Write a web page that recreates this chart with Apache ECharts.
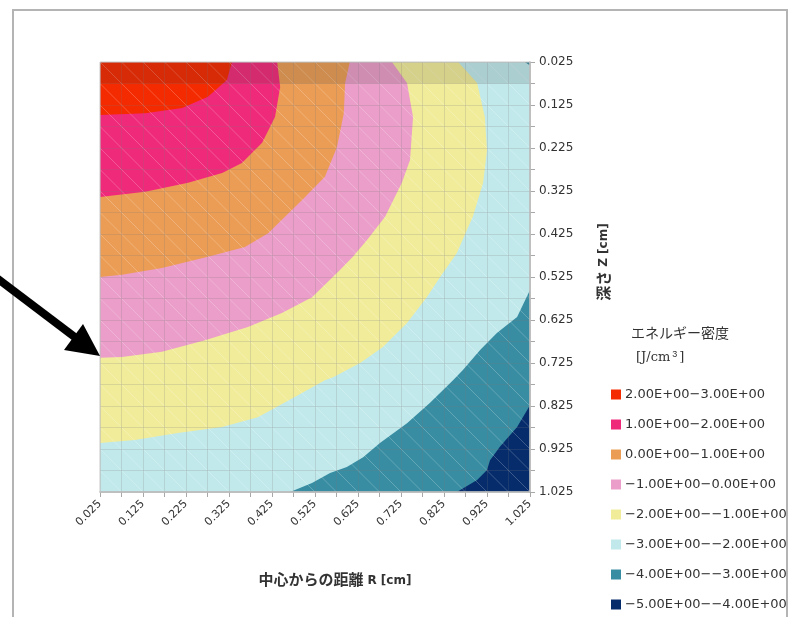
<!DOCTYPE html>
<html>
<head>
<meta charset="utf-8">
<script src="https://cdn.jsdelivr.net/npm/echarts@6/dist/echarts.min.js"></script>
<style>
  html, body { margin: 0; padding: 0; background: #ffffff; }
  #chart { width: 792px; height: 617px; }
</style>
</head>
<body>
<div id="chart"></div>
<script>
// Energy-density contour map: radius R (cm) vs depth Z (cm)

// grid extent (cm)
const rRange = [0.025, 1.025];
const zRange = [0.025, 1.025];
const meshStep = 0.05;

// legend bands, highest first
const bandLabels = [
  '2.00E+00\u22123.00E+00',
  '1.00E+00\u22122.00E+00',
  '0.00E+00\u22121.00E+00',
  '\u22121.00E+00\u22120.00E+00',
  '\u22122.00E+00\u2212\u22121.00E+00',
  '\u22123.00E+00\u2212\u22122.00E+00',
  '\u22124.00E+00\u2212\u22123.00E+00',
  '\u22125.00E+00\u2212\u22124.00E+00'
];
const bandColors = [
  '#f42a00', '#f02a7a', '#eb9d55', '#eb9ec9',
  '#f1ec9a', '#c1e9ec', '#388da2', '#062c6c'
];

// contour lines [R, Z], one per band boundary (level 2, 1, 0, -1, -2, -3, -4)
const contour2 = [[0.332,0.025],[0.320,0.067],[0.276,0.106],[0.216,0.132],[0.130,0.144],[0.025,0.148]];
const contour1 = [[0.437,0.025],[0.444,0.083],[0.432,0.153],[0.402,0.213],[0.355,0.260],[0.309,0.283],
  [0.230,0.306],[0.130,0.327],[0.025,0.339]];
const contour0 = [[0.606,0.025],[0.595,0.074],[0.592,0.144],[0.576,0.223],[0.548,0.292],[0.495,0.346],
  [0.448,0.392],[0.416,0.423],[0.362,0.455],[0.276,0.478],[0.169,0.504],[0.076,0.520],[0.025,0.525]];
const contourM1 = [[0.704,0.025],[0.739,0.074],[0.753,0.153],[0.746,0.253],[0.727,0.306],[0.688,0.385],
  [0.646,0.439],[0.613,0.478],[0.583,0.509],[0.518,0.572],[0.448,0.609],[0.369,0.641],[0.269,0.672],
  [0.169,0.699],[0.076,0.711],[0.025,0.713]];
const contourM2 = [[0.858,0.025],[0.902,0.074],[0.920,0.153],[0.925,0.230],[0.916,0.306],[0.892,0.385],
  [0.878,0.416],[0.855,0.469],[0.816,0.525],[0.785,0.572],[0.739,0.632],[0.683,0.688],[0.630,0.725],
  [0.567,0.758],[0.548,0.765],[0.478,0.804],[0.392,0.851],[0.309,0.874],[0.206,0.888],[0.106,0.904],
  [0.025,0.911]];
const contourM3 = [[1.013,0.025],[1.025,0.033],[1.025,0.555],[0.995,0.618],[0.948,0.655],[0.909,0.695],
  [0.869,0.741],[0.846,0.765],[0.792,0.818],[0.739,0.865],[0.676,0.911],[0.637,0.944],[0.599,0.967],
  [0.560,0.981],[0.518,1.004],[0.467,1.025]];
const contourM4 = [[1.025,0.823],[0.995,0.874],[0.955,0.920],[0.932,0.951],[0.925,0.974],[0.902,0.997],
  [0.855,1.025]];

// depth of the first (shaded) row of the surface
const shadedRowEnd = 0.075;

const EPS = 1e-6;
// region where the value is at or above a contour level (the corner at R0,Z0 is the maximum)
function regionAbove(curve) {
  const pts = [[rRange[0], zRange[0]]];
  const first = curve[0], last = curve[curve.length - 1];
  if (first[0] >= rRange[1] - EPS && first[1] > zRange[0] + EPS) pts.push([rRange[1], zRange[0]]);
  curve.forEach(p => pts.push(p));
  if (last[1] >= zRange[1] - EPS && last[0] > rRange[0] + EPS) pts.push([rRange[0], zRange[1]]);
  return pts;
}
const fullRect = [[rRange[0], zRange[0]], [rRange[1], zRange[0]], [rRange[1], zRange[1]], [rRange[0], zRange[1]]];

// polygons, lowest band first so higher bands paint on top
const bandPolygons = [
  fullRect,
  regionAbove(contourM4),
  regionAbove(contourM3),
  regionAbove(contourM2),
  regionAbove(contourM1),
  regionAbove(contour0),
  regionAbove(contour1),
  regionAbove(contour2)
];

const bandSeries = bandPolygons.map((poly, i) => {
  const bandIdx = bandLabels.length - 1 - i;
  return {
    name: bandLabels[bandIdx],
    type: 'custom',
    coordinateSystem: 'cartesian2d',
    itemStyle: { color: bandColors[bandIdx] },
    data: [[rRange[0], zRange[0]]],
    silent: true,
    z: 2,
    renderItem: (params, api) => ({
      type: 'polygon',
      shape: { points: poly.map(p => api.coord(p)) },
      style: { fill: api.visual('color'), stroke: null }
    })
  };
});

// surface facets: mesh cells with a diagonal, and the shaded first row
const cells = [];
const nCells = Math.round((rRange[1] - rRange[0]) / meshStep);
for (let i = 0; i < nCells; i++) {
  for (let j = 0; j < nCells; j++) {
    cells.push([rRange[0] + i * meshStep, zRange[0] + j * meshStep]);
  }
}
const facetSeries = {
  type: 'custom',
  coordinateSystem: 'cartesian2d',
  silent: true,
  z: 3,
  data: cells,
  renderItem: (params, api) => {
    const r = api.value(0), z = api.value(1);
    const a = api.coord([r, z]);
    const b = api.coord([r + meshStep, z + meshStep]);
    return {
      type: 'line',
      shape: { x1: a[0], y1: a[1], x2: b[0], y2: b[1] },
      style: { stroke: 'rgba(255,255,255,0.22)', lineWidth: 1 }
    };
  }
};
const shadeSeries = {
  type: 'custom',
  coordinateSystem: 'cartesian2d',
  silent: true,
  z: 4,
  data: [[rRange[0], zRange[0]]],
  renderItem: (params, api) => {
    const a = api.coord([rRange[0], zRange[0]]);
    const b = api.coord([rRange[1], shadedRowEnd]);
    return {
      type: 'rect',
      shape: { x: a[0], y: a[1], width: b[0] - a[0], height: b[1] - a[1] },
      style: { fill: 'rgba(40,40,40,0.14)' }
    };
  }
};

function tickLabel(v) {
  const k = Math.round((v - rRange[0]) / meshStep);
  return k % 2 === 0 ? v.toFixed(3) : '';
}

const chart = echarts.init(document.getElementById('chart'), null, { renderer: 'canvas' });
chart.setOption({
  backgroundColor: '#ffffff',
  animation: false,
  textStyle: { fontFamily: 'DejaVu Sans, Noto Sans CJK JP, sans-serif' },
  grid: {
    left: 100, top: 62, width: 430, height: 430,
    show: true, borderColor: '#c8c8c8', borderWidth: 1, backgroundColor: 'transparent', z: 6
  },
  xAxis: {
    type: 'value',
    min: rRange[0], max: rRange[1], interval: meshStep,
    z: 5,
    axisLine: { show: true, lineStyle: { color: '#a8a8a8', width: 1.5 } },
    axisTick: { show: true, length: 5, lineStyle: { color: '#a8a8a8' } },
    splitLine: { show: true, lineStyle: { color: 'rgba(120,120,120,0.2)', width: 1 } },
    axisLabel: {
      rotate: 45, margin: 10, fontSize: 11, color: '#333',
      fontFamily: 'DejaVu Sans', formatter: tickLabel
    },
    name: '{a|中心からの距離} {b|R [cm]}',
    nameLocation: 'middle',
    nameGap: 80,
    nameTextStyle: {
      padding: [0, 0, 0, 40],
      rich: {
        a: { fontSize: 15, color: '#333', fontFamily: 'Noto Sans CJK JP', fontWeight: 'bold' },
        b: { fontSize: 12, color: '#333', fontFamily: 'DejaVu Sans', fontWeight: 'bold', padding: [3, 0, 0, 0] }
      }
    }
  },
  yAxis: {
    type: 'value',
    position: 'right',
    inverse: true,
    min: zRange[0], max: zRange[1], interval: meshStep,
    z: 5,
    axisLine: { show: true, lineStyle: { color: '#a8a8a8', width: 1.5 } },
    axisTick: { show: true, length: 5, lineStyle: { color: '#a8a8a8' } },
    splitLine: { show: true, lineStyle: { color: 'rgba(120,120,120,0.2)', width: 1 } },
    axisLabel: { margin: 9, fontSize: 12, color: '#333', fontFamily: 'DejaVu Sans', formatter: tickLabel },
    name: '{a|深さ} {b|Z [cm]}',
    nameLocation: 'middle',
    nameRotate: 90,
    nameGap: 66,
    nameTextStyle: {
      padding: [0, 0, 0, 30],
      rich: {
        a: { fontSize: 15, color: '#333', fontFamily: 'Noto Sans CJK JP', fontWeight: 'bold' },
        b: { fontSize: 12, color: '#333', fontFamily: 'DejaVu Sans', fontWeight: 'bold' }
      }
    }
  },
  legend: {
    data: bandLabels,
    orient: 'vertical',
    left: 606,
    top: 383,
    icon: 'rect',
    itemWidth: 10,
    itemHeight: 10,
    itemGap: 17,
    selectedMode: false,
    textStyle: { fontSize: 13, color: '#333', fontFamily: 'DejaVu Sans', padding: [0, 0, 0, -1] }
  },
  graphic: [
    {
      type: 'rect', silent: true, z: 0,
      shape: { x: 13, y: 10, width: 774, height: 640 },
      style: { fill: null, stroke: '#b4b4b4', lineWidth: 2 }
    },
    {
      type: 'text', left: 631, top: 326, silent: true,
      style: { text: 'エネルギー密度', fontSize: 14, fill: '#333', fontFamily: 'Noto Sans CJK JP' }
    },
    {
      type: 'text', left: 636, top: 350, silent: true,
      style: {
        text: '[J/cm{s|3}]',
        fontSize: 13, fill: '#333', fontFamily: 'DejaVu Serif',
        rich: { s: { fontSize: 9, fill: '#333', verticalAlign: 'top', padding: [0, 2, 6, 2] } }
      }
    },
    {
      type: 'line', silent: true, z: 100,
      shape: { x1: -6, y1: 276, x2: 76, y2: 338 },
      style: { stroke: '#000', lineWidth: 8 }
    },
    {
      type: 'polygon', silent: true, z: 100,
      shape: { points: [[100, 356], [64, 350], [83, 324]] },
      style: { fill: '#000' }
    }
  ],
  series: bandSeries.concat([facetSeries, shadeSeries])
});
</script>
</body>
</html>
